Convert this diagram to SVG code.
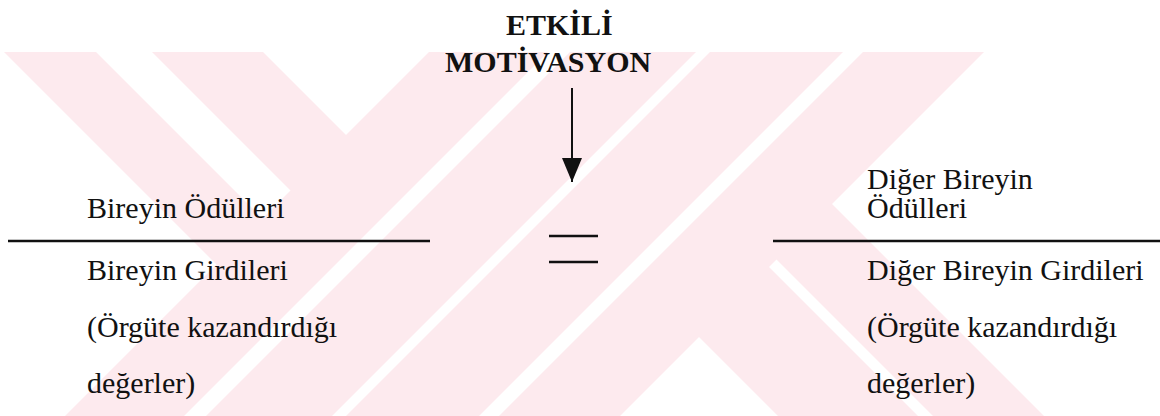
<svg xmlns="http://www.w3.org/2000/svg" width="1160" height="416" viewBox="0 0 1160 416">
  <style>
    .wm { fill: #fdeaee; }
    .t { font-family: "Liberation Serif", "Times New Roman", serif; font-size: 30px; fill: #111; }
    .title { font-family: "Liberation Serif", "Times New Roman", serif; font-size: 30px; font-weight: bold; fill: #111; }
    .rule { stroke: #111; stroke-width: 2.4; fill: none; }
  </style>
  <defs>
    <!-- solid triangular head, pointing along the line direction -->
    <marker id="arrowhead" markerWidth="24" markerHeight="20" refX="24" refY="10" orient="auto" markerUnits="userSpaceOnUse" viewBox="0 0 24 20">
      <path d="M0,0 L24,10 L0,20 Z" fill="#111"/>
    </marker>
  </defs>

  <rect width="1160" height="416" fill="#ffffff"/>

  <!-- background watermark: diagonal bands -->
  <g id="watermark">
    <polygon class="wm" points="429,52 548,52 184,416 65,416"/>
    <polygon class="wm" points="570,52 696,52 332,416 206,416"/>
    <polygon class="wm" points="710,52 843,52 479,416 346,416"/>
    <polygon class="wm" points="863,52 984,52 620,416 499,416"/>
    <polygon class="wm" points="4,52 96,52 292,248 246,294"/>
    <polygon class="wm" points="152,52 263,52 375.5,164.5 320,220"/>
    <polygon class="wm" points="669.5,307.5 739.5,237.5 918,416 778,416"/>
    <polygon class="wm" points="747,230 802.5,174.5 1044,416 933,416"/>
  </g>

  <!-- heading -->
  <g id="motivation">
    <text class="title" x="506" y="35">ETKİLİ</text>
    <text class="title" x="445" y="72">MOTİVASYON</text>
  </g>

  <!-- left ratio: rewards over inputs -->
  <g id="own-ratio">
    <text class="t" x="87" y="218">Bireyin Ödülleri</text>
    <line class="rule" x1="8" y1="241" x2="430" y2="241"/>
    <text class="t" x="87" y="280">Bireyin Girdileri</text>
    <text class="t" x="87" y="337">(Örgüte kazandırdığı</text>
    <text class="t" x="87" y="393">değerler)</text>
  </g>

  <!-- equality sign -->
  <g id="equals">
    <line class="rule" x1="549" y1="236" x2="598" y2="236"/>
    <line class="rule" x1="549" y1="262" x2="598" y2="262"/>
  </g>

  <!-- right ratio: other person's rewards over inputs -->
  <g id="other-ratio">
    <text class="t" x="867" y="189">Diğer Bireyin</text>
    <text class="t" x="867" y="218">Ödülleri</text>
    <line class="rule" x1="773" y1="241" x2="1160" y2="241"/>
    <text class="t" x="867" y="280">Diğer Bireyin Girdileri</text>
    <text class="t" x="867" y="337">(Örgüte kazandırdığı</text>
    <text class="t" x="867" y="393">değerler)</text>
  </g>

  <!-- connectors -->
  <g id="connectors">
    <line x1="572" y1="88" x2="572" y2="182" stroke="#111" stroke-width="2" marker-end="url(#arrowhead)"/>
  </g>
</svg>
